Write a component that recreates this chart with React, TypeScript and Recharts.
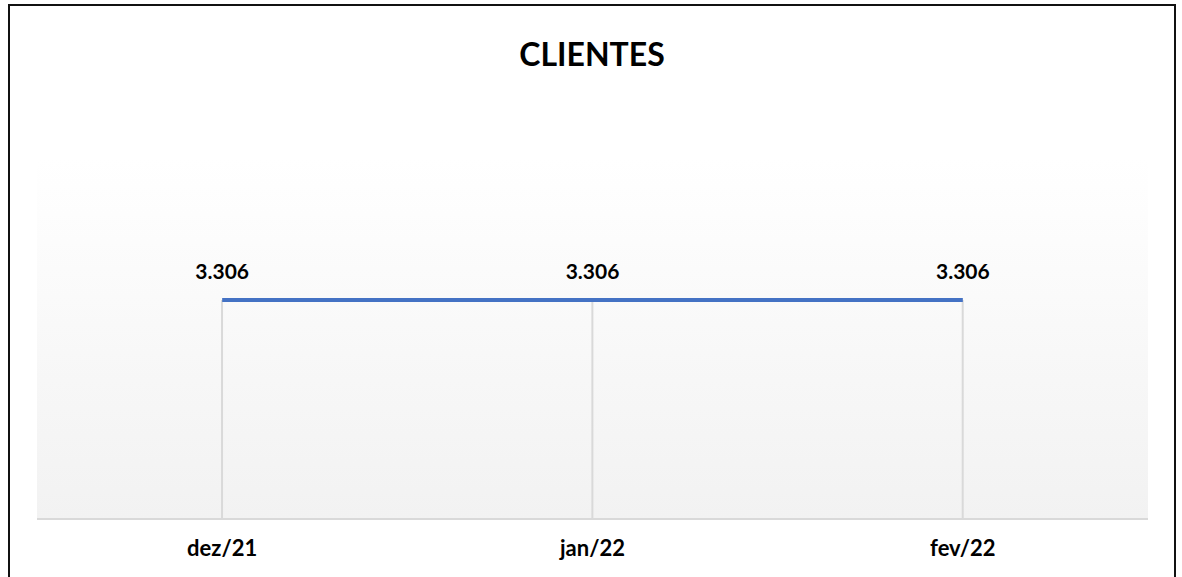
import {
  Bar,
  CartesianGrid,
  ComposedChart,
  LabelList,
  Line,
  XAxis,
  YAxis,
} from 'recharts'

const months = ['dez/21', 'jan/22', 'fev/22']
const clientes = [3306, 3306, 3306]

const data = months.map((m, i) => ({ mes: m, clientes: clientes[i] }))

const FONT = 'Lato, "Open Sans", sans-serif'

const fmt = (v: number) => v.toLocaleString('pt-BR')

// drop line from the point down to the axis
function DropLine(props: any) {
  const { x, y, width, height } = props
  const cx = x + width / 2
  return <line x1={cx} y1={y} x2={cx} y2={y + height} stroke="#d9d9d9" strokeWidth={2} />
}

export default function App() {
  return (
    <div
      style={{
        position: 'fixed',
        top: 4,
        left: 8,
        width: 1164,
        height: 600,
        border: '2px solid #111',
        background: '#fff',
        fontFamily: FONT,
      }}
    >
      <div
        style={{
          position: 'absolute',
          top: 28,
          left: 0,
          width: '100%',
          textAlign: 'center',
          fontSize: 32,
          fontWeight: 700,
          color: '#000',
        }}
      >
        CLIENTES
      </div>
      <ComposedChart
        width={1164}
        height={571}
        data={data}
        margin={{ top: 152, right: 26, left: 27, bottom: 18 }}
      >
        <defs>
          <linearGradient id="bg" x1="0" y1="0" x2="0" y2="1">
            <stop offset="0%" stopColor="#ffffff" />
            <stop offset="100%" stopColor="#f2f2f2" />
          </linearGradient>
        </defs>
        <CartesianGrid horizontal={false} vertical={false} fill="url(#bg)" />
        <XAxis
          dataKey="mes"
          height={40}
          axisLine={{ stroke: '#d9d9d9', strokeWidth: 2 }}
          tickLine={false}
          tick={{ fontSize: 22, fontWeight: 700, fill: '#000', fontFamily: FONT }}
          dy={13}
        />
        <YAxis hide domain={[0, 5450]} />
        <Bar dataKey="clientes" shape={<DropLine />} isAnimationActive={false} />
        <Line
          dataKey="clientes"
          stroke="#4472c4"
          strokeWidth={4}
          dot={false}
          activeDot={false}
          isAnimationActive={false}
        >
          <LabelList
            dataKey="clientes"
            position="top"
            offset={21}
            formatter={(v: any) => fmt(Number(v))}
            style={{ fontSize: 21, fontWeight: 700, fill: '#000', fontFamily: FONT }}
          />
        </Line>
      </ComposedChart>
    </div>
  )
}
